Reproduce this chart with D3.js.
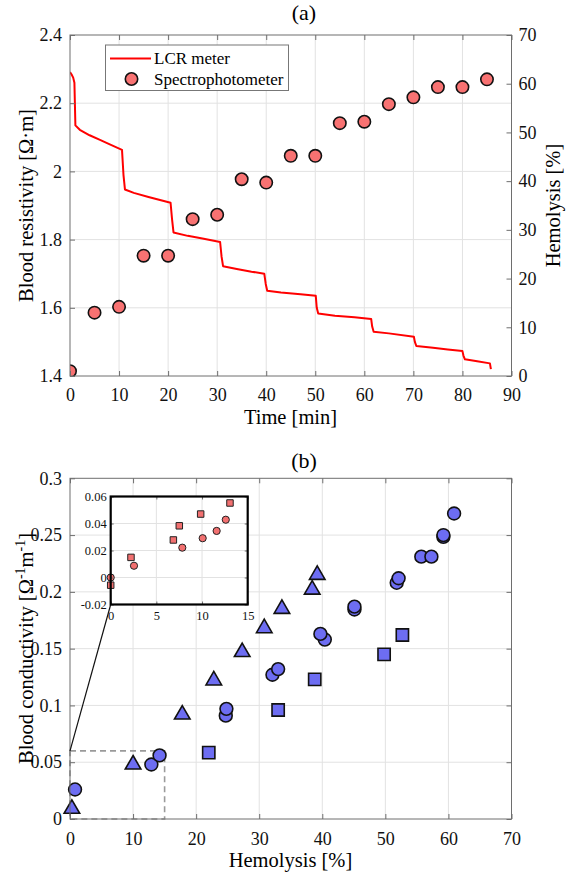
<!DOCTYPE html>
<html><head><meta charset="utf-8">
<script src="https://cdn.jsdelivr.net/npm/d3@7"></script>
<style>
body{margin:0;background:#fff}
svg{display:block}
svg text{font-family:"Liberation Serif","Times New Roman",serif !important}
</style></head><body>
<svg id="c" width="566" height="874"></svg>
<script>
// ---------- data (a) ----------
const spectroTime = [0,5,10,15,20,25,30,35,40,45,50,55,60,65,70,75,80,85];
const spectroHemolysis = [1.0,13.0,14.2,24.7,24.7,32.2,33.1,40.4,39.7,45.2,45.2,51.9,52.2,55.8,57.2,59.3,59.3,60.9];
const lcrTime = [0,0.3,0.65,0.9,1.1,2,4,6,8,10.6,10.9,11.2,13,16,20.5,20.8,21.1,24,27,30.6,30.9,31.2,34,37,39.6,39.9,40.2,43,47,50.1,50.3,50.6,54,58,61.4,61.6,61.9,65,70.1,70.3,70.6,74,77,80.0,80.2,80.5,83,85.6,85.8];
const lcrResistivity = [2.291,2.285,2.275,2.26,2.135,2.122,2.106,2.093,2.080,2.063,1.99,1.947,1.937,1.925,1.908,1.86,1.821,1.811,1.803,1.793,1.75,1.722,1.714,1.706,1.700,1.67,1.650,1.645,1.640,1.635,1.60,1.583,1.577,1.572,1.567,1.545,1.530,1.525,1.515,1.50,1.488,1.483,1.478,1.473,1.46,1.449,1.443,1.437,1.42];
const timeTicks = [0,10,20,30,40,50,60,70,80,90];
const resTicks = [1.4,1.6,1.8,2,2.2,2.4];
const hemoTicks = [0,10,20,30,40,50,60,70];

// ---------- data (b) ----------
const triHemolysis = [0.3,10.0,17.8,22.8,27.3,30.8,33.6,38.4,39.2];
const triConductivity = [0.009,0.048,0.092,0.122,0.147,0.168,0.185,0.202,0.215];
const circHemolysis = [0.8,12.9,14.2,24.7,24.8,32.1,33.0,40.4,39.7,45.1,45.1,51.8,52.1,55.7,57.3,59.2,59.2,60.9];
const circConductivity = [0.026,0.048,0.056,0.091,0.097,0.127,0.132,0.158,0.163,0.1845,0.187,0.208,0.212,0.231,0.231,0.2485,0.250,0.269];
const sqHemolysis = [22.0,33.0,38.8,49.8,52.7];
const sqConductivity = [0.0585,0.096,0.123,0.145,0.162];
const insetCircHemolysis = [0,2.55,7.84,10.07,11.6,12.6];
const insetCircConductivity = [0.000,0.0087,0.0221,0.0291,0.0345,0.0428];
const insetSqHemolysis = [0,2.22,6.86,7.51,9.85,13.06];
const insetSqConductivity = [-0.0057,0.0149,0.0278,0.0383,0.047,0.0552];
const hemoTicksB = [0,10,20,30,40,50,60,70];
const condTicks = [0,0.05,0.1,0.15,0.2,0.25,0.3];
const insetXTicks = [0,5,10,15];
const insetYTicks = [-0.02,0,0.02,0.04,0.06];

const svg = d3.select("#c");
const GRID = "#e2e2e2", AXC = "#6e6e6e";
const SERIF = '"Liberation Serif","Times New Roman",serif';
const fmt = v => String(+v.toFixed(3));

function frame(g, x, y, xt, yt) {
  const [x0,x1] = x.range(), [y0,y1] = y.range();
  g.append("g").selectAll("line").data(xt.filter(v => x(v) > x0+1 && x(v) < x1-1)).join("line")
    .attr("x1", d => x(d)).attr("x2", d => x(d)).attr("y1", y0).attr("y2", y1)
    .attr("stroke", GRID).attr("stroke-width", 1);
  g.append("g").selectAll("line").data(yt.filter(v => y(v) < y0-1 && y(v) > y1+1)).join("line")
    .attr("x1", x0).attr("x2", x1).attr("y1", d => y(d)).attr("y2", d => y(d))
    .attr("stroke", GRID).attr("stroke-width", 1);
}
function styleAxis(a, fs) {
  a.attr("font-family", SERIF).attr("font-size", fs);
  a.select(".domain").remove();
  a.selectAll("line").attr("stroke", AXC);
  a.selectAll("text").attr("font-size", fs).attr("font-family", SERIF).attr("fill", "#111");
}
function axesOver(g, x, y, xt, yt, opt) {
  const [x0,x1] = x.range(), [y0,y1] = y.range();
  const tl = opt.tick || 5, fs = opt.fs || 18;
  const ax = g.append("g").attr("transform", `translate(0,${y0})`)
    .call(d3.axisBottom(x).tickValues(xt).tickFormat(fmt).tickSizeInner(-tl).tickSizeOuter(0).tickPadding(opt.xpad || 12));
  const ay = g.append("g").attr("transform", `translate(${x0},0)`)
    .call(d3.axisLeft(y).tickValues(yt).tickFormat(fmt).tickSizeInner(-tl).tickSizeOuter(0).tickPadding(opt.ypad || 8));
  const tt = g.append("g").attr("transform", `translate(0,${y1})`)
    .call(d3.axisTop(x).tickValues(xt).tickFormat("").tickSizeInner(-tl).tickSizeOuter(0));
  [ax, ay, tt].forEach(a => styleAxis(a, fs));
  if (!opt.noRightTicks) {
    const rt = g.append("g").attr("transform", `translate(${x1},0)`)
      .call(d3.axisRight(y).tickValues(yt).tickFormat("").tickSizeInner(-tl).tickSizeOuter(0));
    styleAxis(rt, fs);
  }
  g.append("rect").attr("x", x0).attr("y", y1).attr("width", x1-x0).attr("height", y0-y1)
    .attr("fill", "none").attr("stroke", opt.boxColor || AXC).attr("stroke-width", opt.boxW || 1);
}

// ================= (a) =================
const xa = d3.scaleLinear().domain([0,90]).range([70,511.5]);
const ya = d3.scaleLinear().domain([1.4,2.4]).range([376,35]);
const yr = d3.scaleLinear().domain([0,70]).range([376,35]);
const ga = svg.append("g");
frame(ga, xa, ya, timeTicks, resTicks);
svg.append("clipPath").attr("id","clipA").append("rect").attr("x",70).attr("y",35).attr("width",441.5).attr("height",341);
const plotA = ga.append("g").attr("clip-path","url(#clipA)");
plotA.append("path")
  .datum(lcrTime.map((t,i) => [t, lcrResistivity[i]]))
  .attr("d", d3.line().x(d => xa(d[0])).y(d => ya(d[1])))
  .attr("fill","none").attr("stroke","#ff0000").attr("stroke-width",2).attr("stroke-linejoin","round");
plotA.append("g").selectAll("circle").data(spectroTime.map((t,i)=>[t,spectroHemolysis[i]])).join("circle")
  .attr("cx", d => xa(d[0])).attr("cy", d => yr(d[1])).attr("r", 6.2)
  .attr("fill","#f87272").attr("stroke","#111").attr("stroke-width",1.6);
axesOver(ga, xa, ya, timeTicks, resTicks, {noRightTicks:true, xpad:12, ypad:8});
const ar = ga.append("g").attr("transform","translate(511.5,0)")
  .call(d3.axisRight(yr).tickValues(hemoTicks).tickFormat(fmt).tickSizeInner(-5).tickSizeOuter(0).tickPadding(7));
styleAxis(ar, 18);
// legend
const lg = ga.append("g");
lg.append("rect").attr("x",105.5).attr("y",45).attr("width",183).attr("height",45.5)
  .attr("fill","#fff").attr("stroke","#777").attr("stroke-width",1);
lg.append("line").attr("x1",110).attr("x2",151).attr("y1",58.5).attr("y2",58.5).attr("stroke","#ff0000").attr("stroke-width",2);
lg.append("text").attr("x",154).attr("y",64).attr("font-size",17).text("LCR meter");
lg.append("circle").attr("cx",131.5).attr("cy",79).attr("r",6.2).attr("fill","#f87272").attr("stroke","#111").attr("stroke-width",1.6);
lg.append("text").attr("x",154).attr("y",85).attr("font-size",17).text("Spectrophotometer");
// labels
svg.append("text").attr("x",304).attr("y",20).attr("text-anchor","middle").attr("font-size",22).text("(a)");
svg.append("text").attr("x",290.5).attr("y",424).attr("text-anchor","middle").attr("font-size",20.5).text("Time [min]");
svg.append("text").attr("transform","translate(33,205.5) rotate(-90)").attr("text-anchor","middle").attr("font-size",20.5).text("Blood resistivity [Ω·m]");
svg.append("text").attr("transform","translate(560,205.5) rotate(-90)").attr("text-anchor","middle").attr("font-size",20.5).text("Hemolysis [%]");

// ================= (b) =================
const xb = d3.scaleLinear().domain([0,70]).range([70,511.5]);
const yb = d3.scaleLinear().domain([0,0.3]).range([819,478.3]);
const gb = svg.append("g");
frame(gb, xb, yb, hemoTicksB, condTicks);
const BLUE = "#6d6df2";
gb.append("rect").attr("x", xb(0)).attr("y", yb(0.06)).attr("width", xb(15)-xb(0)).attr("height", yb(0)-yb(0.06))
  .attr("fill","none").attr("stroke","#9a9a9a").attr("stroke-width",1.6).attr("stroke-dasharray","6,4");
gb.append("g").selectAll("path").data(triHemolysis.map((h,i)=>[h,triConductivity[i]])).join("path")
  .attr("transform", d => `translate(${xb(d[0])},${yb(d[1])})`)
  .attr("d", d3.symbol(d3.symbolTriangle, 105)())
  .attr("fill",BLUE).attr("stroke","#111").attr("stroke-width",1.6);
gb.append("g").selectAll("path").data(sqHemolysis.map((h,i)=>[h,sqConductivity[i]])).join("path")
  .attr("transform", d => `translate(${xb(d[0])},${yb(d[1])})`)
  .attr("d", d3.symbol(d3.symbolSquare, 150)())
  .attr("fill",BLUE).attr("stroke","#111").attr("stroke-width",1.6);
gb.append("g").selectAll("circle").data(circHemolysis.map((h,i)=>[h,circConductivity[i]])).join("circle")
  .attr("cx", d => xb(d[0])).attr("cy", d => yb(d[1])).attr("r", 6.4)
  .attr("fill",BLUE).attr("stroke","#111").attr("stroke-width",1.6);
axesOver(gb, xb, yb, hemoTicksB, condTicks, {xpad:13, ypad:8});

// inset
const xi = d3.scaleLinear().domain([0,15]).range([110.7,247.7]);
const yi = d3.scaleLinear().domain([-0.02,0.06]).range([604.5,496.5]);
gb.append("line").attr("x1", xb(0)).attr("y1", yb(0.06)).attr("x2", xi(0)).attr("y2", yi(-0.02))
  .attr("stroke","#111").attr("stroke-width",1.2);
const gi = gb.append("g");
gi.append("rect").attr("x",110.7).attr("y",496.5).attr("width",137).attr("height",108).attr("fill","#fff");
frame(gi, xi, yi, insetXTicks, insetYTicks);
gi.append("g").selectAll("path").data(insetSqHemolysis.map((h,i)=>[h,insetSqConductivity[i]])).join("path")
  .attr("transform", d => `translate(${xi(d[0])},${yi(d[1])})`)
  .attr("d", d3.symbol(d3.symbolSquare, 42)())
  .attr("fill","#f27070").attr("stroke","#222").attr("stroke-width",1);
gi.append("g").selectAll("circle").data(insetCircHemolysis.map((h,i)=>[h,insetCircConductivity[i]])).join("circle")
  .attr("cx", d => xi(d[0])).attr("cy", d => yi(d[1])).attr("r", 3.6)
  .attr("fill","#f27070").attr("stroke","#222").attr("stroke-width",1);
axesOver(gi, xi, yi, insetXTicks, insetYTicks, {fs:12.5, tick:3, xpad:7, ypad:4, boxColor:"#000", boxW:2.2});

svg.append("text").attr("x",304).attr("y",468).attr("text-anchor","middle").attr("font-size",22).text("(b)");
svg.append("text").attr("x",290.5).attr("y",867).attr("text-anchor","middle").attr("font-size",20.5).text("Hemolysis [%]");
const yl = svg.append("text").attr("transform","translate(33,648.5) rotate(-90)").attr("text-anchor","middle").attr("font-size",20.5);
yl.append("tspan").text("Blood conductivity [Ω");
yl.append("tspan").attr("dy",-8).attr("font-size",14).text("-1");
yl.append("tspan").attr("dy",8).text("m");
yl.append("tspan").attr("dy",-8).attr("font-size",14).text("-1");
yl.append("tspan").attr("dy",8).text("]");
</script>
</body></html>
